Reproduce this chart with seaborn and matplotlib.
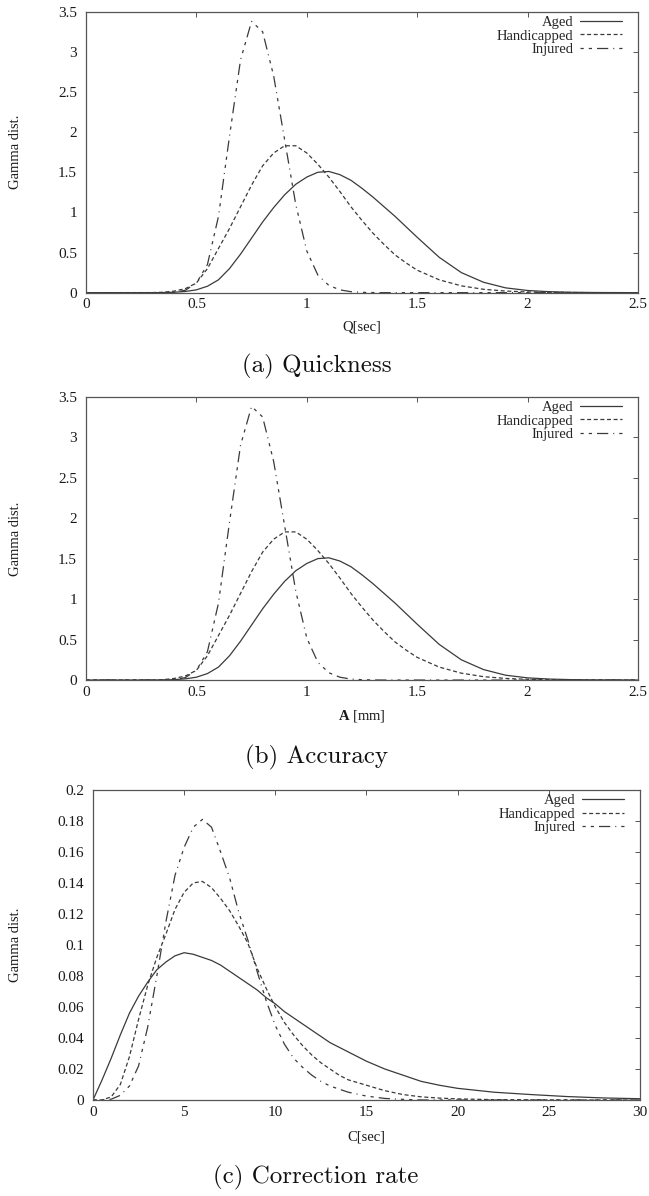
import matplotlib
matplotlib.use("Agg")
import matplotlib.pyplot as plt
import seaborn as sns
import pandas as pd

# ---------------- data ----------------
q_x = [0, 0.3, 0.35, 0.4, 0.45, 0.5, 0.55, 0.6, 0.65, 0.7, 0.75, 0.8, 0.85, 0.9, 0.95,
       1.0, 1.05, 1.1, 1.15, 1.2, 1.25, 1.3, 1.35, 1.4, 1.45, 1.5, 1.6, 1.7, 1.8, 1.9,
       2.0, 2.1, 2.2, 2.3, 2.5]
q_aged = [0, 0, 0.001, 0.005, 0.015, 0.035, 0.08, 0.16, 0.30, 0.48, 0.68, 0.88, 1.06, 1.22,
          1.35, 1.44, 1.50, 1.51, 1.47, 1.40, 1.30, 1.19, 1.07, 0.95, 0.82, 0.69, 0.44, 0.25,
          0.13, 0.06, 0.027, 0.012, 0.005, 0.002, 0]
q_handicapped = [0, 0.001, 0.005, 0.02, 0.05, 0.12, 0.3, 0.55, 0.8, 1.07, 1.34, 1.58, 1.74,
                 1.83, 1.83, 1.74, 1.60, 1.44, 1.26, 1.07, 0.90, 0.74, 0.60, 0.47, 0.37, 0.28,
                 0.16, 0.085, 0.042, 0.02, 0.009, 0.004, 0.0015, 0.0005, 0]
q_injured = [0, 0, 0.001, 0.005, 0.03, 0.12, 0.35, 0.95, 1.95, 2.9, 3.38, 3.25, 2.7, 1.9, 1.1,
             0.52, 0.22, 0.09, 0.035, 0.012, 0.004, 0.001, 0, 0, 0, 0, 0, 0, 0, 0, 0, 0, 0, 0, 0]

# panel (b) shows the same curves as panel (a)
a_x = list(q_x)
a_aged = list(q_aged)
a_handicapped = list(q_handicapped)
a_injured = list(q_injured)

c_x = [0, 0.5, 1, 1.5, 2, 2.5, 3, 3.5, 4, 4.5, 5, 5.5, 6, 6.5, 7, 7.5, 8, 8.5, 9, 9.5, 10,
       10.5, 11, 11.5, 12, 12.5, 13, 13.5, 14, 15, 16, 17, 18, 19, 20, 22, 24, 26, 28, 30]
c_aged = [0, 0.013, 0.027, 0.042, 0.056, 0.067, 0.076, 0.084, 0.089, 0.093, 0.095, 0.094,
          0.092, 0.090, 0.087, 0.083, 0.079, 0.075, 0.071, 0.066, 0.062, 0.057, 0.053, 0.049,
          0.045, 0.041, 0.037, 0.034, 0.031, 0.025, 0.020, 0.016, 0.012, 0.0095, 0.0075,
          0.005, 0.0035, 0.0022, 0.0013, 0.0008]
c_handicapped = [0, 0, 0.002, 0.01, 0.028, 0.052, 0.074, 0.092, 0.107, 0.123, 0.134, 0.140,
                 0.141, 0.137, 0.130, 0.122, 0.112, 0.101, 0.085, 0.072, 0.060, 0.050, 0.042,
                 0.035, 0.029, 0.024, 0.020, 0.016, 0.013, 0.0095, 0.006, 0.0035, 0.002, 0.0012,
                 0.0007, 0.0002, 0.0001, 0, 0, 0]
c_injured = [0, 0, 0.0005, 0.003, 0.009, 0.022, 0.047, 0.08, 0.115, 0.145, 0.163, 0.176, 0.181,
             0.176, 0.160, 0.143, 0.121, 0.103, 0.083, 0.064, 0.048, 0.036, 0.027, 0.021, 0.016,
             0.012, 0.009, 0.007, 0.005, 0.0025, 0.001, 0.0004, 0, 0, 0, 0, 0, 0, 0, 0]

series_names = ["Aged", "Handicapped", "Injured"]
q_xticks = [0, 0.5, 1, 1.5, 2, 2.5]
q_yticks = [0, 0.5, 1, 1.5, 2, 2.5, 3, 3.5]
q_ticklabels_x = ["0", "0.5", "1", "1.5", "2", "2.5"]
q_ticklabels_y = ["0", "0.5", "1", "1.5", "2", "2.5", "3", "3.5"]
c_xticks = [0, 5, 10, 15, 20, 25, 30]
c_yticks = [0, 0.02, 0.04, 0.06, 0.08, 0.1, 0.12, 0.14, 0.16, 0.18, 0.2]
c_ticklabels_x = ["0", "5", "10", "15", "20", "25", "30"]
c_ticklabels_y = ["0", "0.02", "0.04", "0.06", "0.08", "0.1", "0.12", "0.14", "0.16", "0.18", "0.2"]
captions = ["(a) Quickness", "(b) Accuracy", "(c) Correction rate"]

# ---------------- style ----------------
sns.set_theme(style="white")
plt.rcParams["font.family"] = ["Liberation Serif", "DejaVu Serif"]
plt.rcParams["mathtext.fontset"] = "custom"
plt.rcParams["mathtext.bf"] = "Liberation Serif:bold"
plt.rcParams["mathtext.rm"] = "Liberation Serif"

LINE_COL = "#3a3a3a"
SPINE_COL = "#555555"
TEXT_COL = "#1a1a1a"
dash_styles = {"Aged": "", "Handicapped": (3.2, 2.1),
               "Injured": (2.6, 4.0, 2.6, 4.0, 9.0, 4.0, 0.8, 4.0)}

fig = plt.figure(figsize=(6.49, 11.96), dpi=100)

def make_df(x, aged, hand, inj):
    rows = []
    for name, ys in zip(series_names, [aged, hand, inj]):
        for xv, yv in zip(x, ys):
            rows.append({"x": xv, "y": yv, "group": name})
    return pd.DataFrame(rows)

panels = [
    dict(rect=[0.1325, 0.7553, 0.8505, 0.2349], df=make_df(q_x, q_aged, q_handicapped, q_injured),
         xlim=(0, 2.5), ylim=(0, 3.5), xt=q_xticks, yt=q_yticks, xtl=q_ticklabels_x,
         ytl=q_ticklabels_y, xlabel="Q[sec]", xlab_y=-0.10, ylab_x=-0.116),
    dict(rect=[0.1325, 0.4314, 0.8505, 0.2369], df=make_df(a_x, a_aged, a_handicapped, a_injured),
         xlim=(0, 2.5), ylim=(0, 3.5), xt=q_xticks, yt=q_yticks, xtl=q_ticklabels_x,
         ytl=q_ticklabels_y, xlabel=r"$\mathbf{A}$ [mm]", xlab_y=-0.10, ylab_x=-0.116),
    dict(rect=[0.1433, 0.0803, 0.8427, 0.2592], df=make_df(c_x, c_aged, c_handicapped, c_injured),
         xlim=(0, 30), ylim=(0, 0.2), xt=c_xticks, yt=c_yticks, xtl=c_ticklabels_x,
         ytl=c_ticklabels_y, xlabel="C[sec]", xlab_y=-0.10, ylab_x=-0.13),
]

for p in panels:
    ax = fig.add_axes(p["rect"])
    sns.lineplot(data=p["df"], x="x", y="y", hue="group", style="group",
                 palette={n: LINE_COL for n in series_names}, dashes=dash_styles,
                 linewidth=0.9, ax=ax, legend=True, sort=False)
    ax.set_xlim(*p["xlim"])
    ax.set_ylim(*p["ylim"])
    ax.set_xticks(p["xt"])
    ax.set_xticklabels(p["xtl"])
    ax.set_yticks(p["yt"])
    ax.set_yticklabels(p["ytl"])
    ax.tick_params(direction="in", length=3.5, width=0.7, color=SPINE_COL,
                   top=True, right=True, labelsize=11, pad=4, labelcolor=TEXT_COL)
    ax.tick_params(axis="y", pad=6.5)
    for s in ax.spines.values():
        s.set_color(SPINE_COL)
        s.set_linewidth(0.9)
    ax.set_xlabel(p["xlabel"], fontsize=10.5, color=TEXT_COL)
    ax.xaxis.set_label_coords(0.5, p["xlab_y"])
    ax.set_ylabel("Gamma dist.", fontsize=10.5, color=TEXT_COL)
    ax.yaxis.set_label_coords(p["ylab_x"], 0.5)
    ax.grid(False)
    handles, labels = ax.get_legend_handles_labels()
    w_px = p["rect"][2] * 649
    h_px = p["rect"][3] * 1196
    ax.legend(handles, labels, loc="upper right",
              bbox_to_anchor=(1 - 16 / w_px, 1 - 4 / h_px),
              frameon=False, markerfirst=False, fontsize=10.5, handlelength=2.9,
              labelspacing=0.03, borderaxespad=0.0, borderpad=0.0, handletextpad=0.45)

cap_pos = [(0.488, 0.694), (0.488, 0.367), (0.487, 0.0159)]
for text, (cx, cy) in zip(captions, cap_pos):
    fig.text(cx, cy, text, ha="center", va="center", fontsize=18,
             family=["cmr10", "DejaVu Serif"], color="#111111")

fig.savefig("out.png", dpi=100)
